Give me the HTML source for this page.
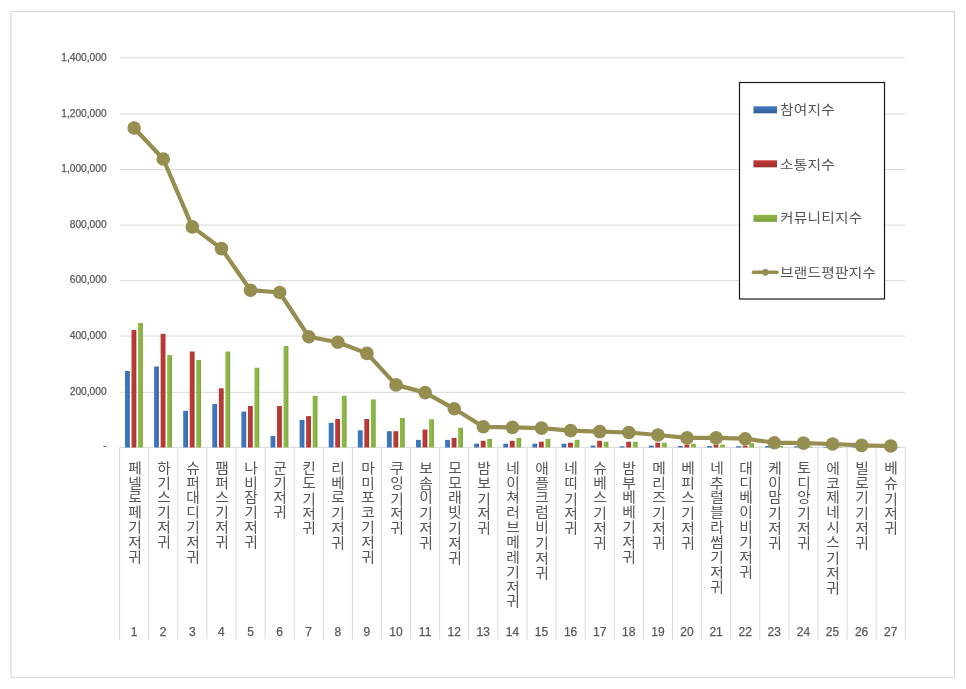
<!DOCTYPE html>
<html lang="ko"><head><meta charset="utf-8"><title>기저귀 브랜드평판</title>
<style>
html,body{margin:0;padding:0;background:#fff;}
body{width:966px;height:689px;position:relative;overflow:hidden;font-family:"Liberation Sans","Noto Sans CJK KR",sans-serif;color:#595959;}
#chart{position:absolute;left:0;top:0;width:966px;height:689px;}
svg{position:absolute;left:0;top:0;}
.ylab{-webkit-text-stroke:0.25px #595959;position:absolute;right:859.4px;width:80px;text-align:right;font-size:10.2px;line-height:12px;height:12px;color:#595959;white-space:nowrap;}
.cat{position:absolute;top:461px;width:29px;height:170px;margin-left:-0.9px;writing-mode:vertical-rl;text-orientation:upright;font-family:"Liberation Sans","Noto Sans CJK KR",sans-serif;font-size:13.4px;letter-spacing:1.45px;word-spacing:-15.3px;line-height:29px;transform:scaleX(1.1);transform-origin:50% 0;color:#555;white-space:nowrap;}
.num{-webkit-text-stroke:0.25px #595959;position:absolute;top:624.7px;width:29px;text-align:center;font-size:12px;line-height:14px;color:#595959;}
.leg{position:absolute;left:780px;font-size:13px;letter-spacing:0.2px;transform:scaleX(1.13);transform-origin:0 50%;line-height:18px;height:18px;color:#555;white-space:nowrap;font-family:"Liberation Sans","Noto Sans CJK KR",sans-serif;}
</style></head><body><div id="chart">
<svg width="966" height="689" viewBox="0 0 966 689">
<defs>
<linearGradient id="gb" x1="0" y1="0" x2="1" y2="0"><stop offset="0" stop-color="#3d7ac4"/><stop offset="0.65" stop-color="#3a75bb"/><stop offset="1" stop-color="#3d649a"/></linearGradient>
<linearGradient id="gr" x1="0" y1="0" x2="1" y2="0"><stop offset="0" stop-color="#b23632"/><stop offset="0.4" stop-color="#c23a36"/><stop offset="1" stop-color="#a03530"/></linearGradient>
<linearGradient id="gg" x1="0" y1="0" x2="1" y2="0"><stop offset="0" stop-color="#8cb644"/><stop offset="0.5" stop-color="#8db843"/><stop offset="1" stop-color="#80a246"/></linearGradient>
<linearGradient id="lb" x1="0" y1="0" x2="0" y2="1"><stop offset="0" stop-color="#3f7bc6"/><stop offset="1" stop-color="#355d94"/></linearGradient>
<linearGradient id="lr" x1="0" y1="0" x2="0" y2="1"><stop offset="0" stop-color="#c63b39"/><stop offset="1" stop-color="#9a2f2c"/></linearGradient>
<linearGradient id="lg" x1="0" y1="0" x2="0" y2="1"><stop offset="0" stop-color="#93ba47"/><stop offset="1" stop-color="#7b9c3c"/></linearGradient>
</defs>
<rect x="10.95" y="11.6" width="943.5" height="665.8" fill="#fff" stroke="#d9d9d9" stroke-width="1.1"/>
<line x1="119.6" y1="57.80" x2="905.3" y2="57.80" stroke="#d9d9d9" stroke-width="1"/>
<line x1="119.6" y1="113.90" x2="905.3" y2="113.90" stroke="#d9d9d9" stroke-width="1"/>
<line x1="119.6" y1="169.50" x2="905.3" y2="169.50" stroke="#d9d9d9" stroke-width="1"/>
<line x1="119.6" y1="225.10" x2="905.3" y2="225.10" stroke="#d9d9d9" stroke-width="1"/>
<line x1="119.6" y1="280.60" x2="905.3" y2="280.60" stroke="#d9d9d9" stroke-width="1"/>
<line x1="119.6" y1="336.10" x2="905.3" y2="336.10" stroke="#d9d9d9" stroke-width="1"/>
<line x1="119.6" y1="392.30" x2="905.3" y2="392.30" stroke="#d9d9d9" stroke-width="1"/>
<line x1="119.6" y1="447.40" x2="905.3" y2="447.40" stroke="#d9d9d9" stroke-width="1"/>
<line x1="119.60" y1="447.5" x2="119.60" y2="639.5" stroke="#d9d9d9" stroke-width="1"/>
<line x1="148.70" y1="447.5" x2="148.70" y2="639.5" stroke="#d9d9d9" stroke-width="1"/>
<line x1="177.80" y1="447.5" x2="177.80" y2="639.5" stroke="#d9d9d9" stroke-width="1"/>
<line x1="206.90" y1="447.5" x2="206.90" y2="639.5" stroke="#d9d9d9" stroke-width="1"/>
<line x1="236.00" y1="447.5" x2="236.00" y2="639.5" stroke="#d9d9d9" stroke-width="1"/>
<line x1="265.10" y1="447.5" x2="265.10" y2="639.5" stroke="#d9d9d9" stroke-width="1"/>
<line x1="294.20" y1="447.5" x2="294.20" y2="639.5" stroke="#d9d9d9" stroke-width="1"/>
<line x1="323.30" y1="447.5" x2="323.30" y2="639.5" stroke="#d9d9d9" stroke-width="1"/>
<line x1="352.40" y1="447.5" x2="352.40" y2="639.5" stroke="#d9d9d9" stroke-width="1"/>
<line x1="381.50" y1="447.5" x2="381.50" y2="639.5" stroke="#d9d9d9" stroke-width="1"/>
<line x1="410.60" y1="447.5" x2="410.60" y2="639.5" stroke="#d9d9d9" stroke-width="1"/>
<line x1="439.70" y1="447.5" x2="439.70" y2="639.5" stroke="#d9d9d9" stroke-width="1"/>
<line x1="468.80" y1="447.5" x2="468.80" y2="639.5" stroke="#d9d9d9" stroke-width="1"/>
<line x1="497.90" y1="447.5" x2="497.90" y2="639.5" stroke="#d9d9d9" stroke-width="1"/>
<line x1="527.00" y1="447.5" x2="527.00" y2="639.5" stroke="#d9d9d9" stroke-width="1"/>
<line x1="556.10" y1="447.5" x2="556.10" y2="639.5" stroke="#d9d9d9" stroke-width="1"/>
<line x1="585.20" y1="447.5" x2="585.20" y2="639.5" stroke="#d9d9d9" stroke-width="1"/>
<line x1="614.30" y1="447.5" x2="614.30" y2="639.5" stroke="#d9d9d9" stroke-width="1"/>
<line x1="643.40" y1="447.5" x2="643.40" y2="639.5" stroke="#d9d9d9" stroke-width="1"/>
<line x1="672.50" y1="447.5" x2="672.50" y2="639.5" stroke="#d9d9d9" stroke-width="1"/>
<line x1="701.60" y1="447.5" x2="701.60" y2="639.5" stroke="#d9d9d9" stroke-width="1"/>
<line x1="730.70" y1="447.5" x2="730.70" y2="639.5" stroke="#d9d9d9" stroke-width="1"/>
<line x1="759.80" y1="447.5" x2="759.80" y2="639.5" stroke="#d9d9d9" stroke-width="1"/>
<line x1="788.90" y1="447.5" x2="788.90" y2="639.5" stroke="#d9d9d9" stroke-width="1"/>
<line x1="818.00" y1="447.5" x2="818.00" y2="639.5" stroke="#d9d9d9" stroke-width="1"/>
<line x1="847.10" y1="447.5" x2="847.10" y2="639.5" stroke="#d9d9d9" stroke-width="1"/>
<line x1="876.20" y1="447.5" x2="876.20" y2="639.5" stroke="#d9d9d9" stroke-width="1"/>
<line x1="905.30" y1="447.5" x2="905.30" y2="639.5" stroke="#d9d9d9" stroke-width="1"/>
<rect x="125.00" y="371.00" width="4.8" height="76.50" fill="url(#gb)"/>
<rect x="131.55" y="329.90" width="4.8" height="117.60" fill="url(#gr)"/>
<rect x="138.10" y="323.00" width="4.8" height="124.50" fill="url(#gg)"/>
<rect x="154.10" y="366.50" width="4.8" height="81.00" fill="url(#gb)"/>
<rect x="160.65" y="333.80" width="4.8" height="113.70" fill="url(#gr)"/>
<rect x="167.20" y="355.10" width="4.8" height="92.40" fill="url(#gg)"/>
<rect x="183.20" y="410.80" width="4.8" height="36.70" fill="url(#gb)"/>
<rect x="189.75" y="351.50" width="4.8" height="96.00" fill="url(#gr)"/>
<rect x="196.30" y="360.00" width="4.8" height="87.50" fill="url(#gg)"/>
<rect x="212.30" y="404.10" width="4.8" height="43.40" fill="url(#gb)"/>
<rect x="218.85" y="388.30" width="4.8" height="59.20" fill="url(#gr)"/>
<rect x="225.40" y="351.50" width="4.8" height="96.00" fill="url(#gg)"/>
<rect x="241.40" y="411.60" width="4.8" height="35.90" fill="url(#gb)"/>
<rect x="247.95" y="406.00" width="4.8" height="41.50" fill="url(#gr)"/>
<rect x="254.50" y="367.70" width="4.8" height="79.80" fill="url(#gg)"/>
<rect x="270.50" y="436.00" width="4.8" height="11.50" fill="url(#gb)"/>
<rect x="277.05" y="406.00" width="4.8" height="41.50" fill="url(#gr)"/>
<rect x="283.60" y="346.00" width="4.8" height="101.50" fill="url(#gg)"/>
<rect x="299.60" y="419.90" width="4.8" height="27.60" fill="url(#gb)"/>
<rect x="306.15" y="416.10" width="4.8" height="31.40" fill="url(#gr)"/>
<rect x="312.70" y="395.80" width="4.8" height="51.70" fill="url(#gg)"/>
<rect x="328.70" y="422.80" width="4.8" height="24.70" fill="url(#gb)"/>
<rect x="335.25" y="419.00" width="4.8" height="28.50" fill="url(#gr)"/>
<rect x="341.80" y="395.80" width="4.8" height="51.70" fill="url(#gg)"/>
<rect x="357.80" y="430.30" width="4.8" height="17.20" fill="url(#gb)"/>
<rect x="364.35" y="419.00" width="4.8" height="28.50" fill="url(#gr)"/>
<rect x="370.90" y="399.40" width="4.8" height="48.10" fill="url(#gg)"/>
<rect x="386.90" y="431.20" width="4.8" height="16.30" fill="url(#gb)"/>
<rect x="393.45" y="431.20" width="4.8" height="16.30" fill="url(#gr)"/>
<rect x="400.00" y="418.00" width="4.8" height="29.50" fill="url(#gg)"/>
<rect x="416.00" y="439.90" width="4.8" height="7.60" fill="url(#gb)"/>
<rect x="422.55" y="429.50" width="4.8" height="18.00" fill="url(#gr)"/>
<rect x="429.10" y="419.20" width="4.8" height="28.30" fill="url(#gg)"/>
<rect x="445.10" y="439.90" width="4.8" height="7.60" fill="url(#gb)"/>
<rect x="451.65" y="437.90" width="4.8" height="9.60" fill="url(#gr)"/>
<rect x="458.20" y="427.80" width="4.8" height="19.70" fill="url(#gg)"/>
<rect x="474.20" y="443.70" width="4.8" height="3.80" fill="url(#gb)"/>
<rect x="480.75" y="440.80" width="4.8" height="6.70" fill="url(#gr)"/>
<rect x="487.30" y="438.90" width="4.8" height="8.60" fill="url(#gg)"/>
<rect x="503.30" y="443.70" width="4.8" height="3.80" fill="url(#gb)"/>
<rect x="509.85" y="440.80" width="4.8" height="6.70" fill="url(#gr)"/>
<rect x="516.40" y="437.90" width="4.8" height="9.60" fill="url(#gg)"/>
<rect x="532.40" y="443.70" width="4.8" height="3.80" fill="url(#gb)"/>
<rect x="538.95" y="441.70" width="4.8" height="5.80" fill="url(#gr)"/>
<rect x="545.50" y="438.90" width="4.8" height="8.60" fill="url(#gg)"/>
<rect x="561.50" y="443.70" width="4.8" height="3.80" fill="url(#gb)"/>
<rect x="568.05" y="442.70" width="4.8" height="4.80" fill="url(#gr)"/>
<rect x="574.60" y="439.80" width="4.8" height="7.70" fill="url(#gg)"/>
<rect x="590.60" y="445.60" width="4.8" height="1.90" fill="url(#gb)"/>
<rect x="597.15" y="440.80" width="4.8" height="6.70" fill="url(#gr)"/>
<rect x="603.70" y="441.70" width="4.8" height="5.80" fill="url(#gg)"/>
<rect x="619.70" y="446.30" width="4.8" height="1.20" fill="url(#gb)"/>
<rect x="626.25" y="441.70" width="4.8" height="5.80" fill="url(#gr)"/>
<rect x="632.80" y="441.70" width="4.8" height="5.80" fill="url(#gg)"/>
<rect x="648.80" y="445.60" width="4.8" height="1.90" fill="url(#gb)"/>
<rect x="655.35" y="442.70" width="4.8" height="4.80" fill="url(#gr)"/>
<rect x="661.90" y="442.70" width="4.8" height="4.80" fill="url(#gg)"/>
<rect x="677.90" y="446.00" width="4.8" height="1.50" fill="url(#gb)"/>
<rect x="684.45" y="444.60" width="4.8" height="2.90" fill="url(#gr)"/>
<rect x="691.00" y="443.70" width="4.8" height="3.80" fill="url(#gg)"/>
<rect x="707.00" y="446.00" width="4.8" height="1.50" fill="url(#gb)"/>
<rect x="713.55" y="444.60" width="4.8" height="2.90" fill="url(#gr)"/>
<rect x="720.10" y="444.60" width="4.8" height="2.90" fill="url(#gg)"/>
<rect x="736.10" y="446.20" width="4.8" height="1.30" fill="url(#gb)"/>
<rect x="742.65" y="445.60" width="4.8" height="1.90" fill="url(#gr)"/>
<rect x="749.20" y="443.10" width="4.8" height="4.40" fill="url(#gg)"/>
<rect x="765.20" y="446.00" width="4.8" height="1.50" fill="url(#gb)"/>
<rect x="771.75" y="446.50" width="4.8" height="1.00" fill="url(#gr)"/>
<rect x="778.30" y="446.00" width="4.8" height="1.50" fill="url(#gg)"/>
<rect x="794.30" y="446.30" width="4.8" height="1.20" fill="url(#gb)"/>
<rect x="800.85" y="446.80" width="4.8" height="0.70" fill="url(#gr)"/>
<rect x="807.40" y="446.50" width="4.8" height="1.00" fill="url(#gg)"/>
<rect x="823.40" y="446.80" width="4.8" height="0.70" fill="url(#gb)"/>
<rect x="829.95" y="446.90" width="4.8" height="0.60" fill="url(#gr)"/>
<rect x="836.50" y="446.80" width="4.8" height="0.70" fill="url(#gg)"/>
<rect x="852.50" y="447.00" width="4.8" height="0.50" fill="url(#gb)"/>
<rect x="859.05" y="447.00" width="4.8" height="0.50" fill="url(#gr)"/>
<rect x="865.60" y="447.00" width="4.8" height="0.50" fill="url(#gg)"/>
<rect x="881.60" y="447.10" width="4.8" height="0.40" fill="url(#gb)"/>
<rect x="888.15" y="447.10" width="4.8" height="0.40" fill="url(#gr)"/>
<rect x="894.70" y="447.10" width="4.8" height="0.40" fill="url(#gg)"/>
<polyline points="134.15,128.00 163.25,159.00 192.35,226.90 221.45,248.60 250.55,290.20 279.65,292.50 308.75,336.70 337.85,342.20 366.95,353.40 396.05,384.90 425.15,392.60 454.25,408.80 483.35,426.80 512.45,427.40 541.55,428.10 570.65,430.60 599.75,431.60 628.85,432.50 657.95,435.00 687.05,437.90 716.15,437.90 745.25,438.70 774.35,442.70 803.45,443.10 832.55,444.00 861.65,445.40 890.75,446.00" fill="none" stroke="#968e50" stroke-width="4.2" stroke-linejoin="round" stroke-linecap="round"/>
<circle cx="134.15" cy="128.00" r="6.8" fill="#968e50"/>
<circle cx="163.25" cy="159.00" r="6.8" fill="#968e50"/>
<circle cx="192.35" cy="226.90" r="6.8" fill="#968e50"/>
<circle cx="221.45" cy="248.60" r="6.8" fill="#968e50"/>
<circle cx="250.55" cy="290.20" r="6.8" fill="#968e50"/>
<circle cx="279.65" cy="292.50" r="6.8" fill="#968e50"/>
<circle cx="308.75" cy="336.70" r="6.8" fill="#968e50"/>
<circle cx="337.85" cy="342.20" r="6.8" fill="#968e50"/>
<circle cx="366.95" cy="353.40" r="6.8" fill="#968e50"/>
<circle cx="396.05" cy="384.90" r="6.8" fill="#968e50"/>
<circle cx="425.15" cy="392.60" r="6.8" fill="#968e50"/>
<circle cx="454.25" cy="408.80" r="6.8" fill="#968e50"/>
<circle cx="483.35" cy="426.80" r="6.8" fill="#968e50"/>
<circle cx="512.45" cy="427.40" r="6.8" fill="#968e50"/>
<circle cx="541.55" cy="428.10" r="6.8" fill="#968e50"/>
<circle cx="570.65" cy="430.60" r="6.8" fill="#968e50"/>
<circle cx="599.75" cy="431.60" r="6.8" fill="#968e50"/>
<circle cx="628.85" cy="432.50" r="6.8" fill="#968e50"/>
<circle cx="657.95" cy="435.00" r="6.8" fill="#968e50"/>
<circle cx="687.05" cy="437.90" r="6.8" fill="#968e50"/>
<circle cx="716.15" cy="437.90" r="6.8" fill="#968e50"/>
<circle cx="745.25" cy="438.70" r="6.8" fill="#968e50"/>
<circle cx="774.35" cy="442.70" r="6.8" fill="#968e50"/>
<circle cx="803.45" cy="443.10" r="6.8" fill="#968e50"/>
<circle cx="832.55" cy="444.00" r="6.8" fill="#968e50"/>
<circle cx="861.65" cy="445.40" r="6.8" fill="#968e50"/>
<circle cx="890.75" cy="446.00" r="6.8" fill="#968e50"/>
<rect x="739.5" y="82.5" width="145" height="216.5" fill="#fff" stroke="#1a1a1a" stroke-width="1.2"/>
<rect x="753.5" y="106.3" width="23.5" height="7" fill="url(#lb)"/>
<rect x="753.5" y="160.3" width="23.5" height="7" fill="url(#lr)"/>
<rect x="753.5" y="214.8" width="23.5" height="7" fill="url(#lg)"/>
<line x1="753.5" y1="272.3" x2="777" y2="272.3" stroke="#968e50" stroke-width="3.6" stroke-linecap="round"/>
<circle cx="765.3" cy="272.3" r="3.4" fill="#968e50"/>
</svg>
<div class="ylab" style="top:51.6px">1,400,000</div>
<div class="ylab" style="top:107.7px">1,200,000</div>
<div class="ylab" style="top:163.3px">1,000,000</div>
<div class="ylab" style="top:218.9px">800,000</div>
<div class="ylab" style="top:274.4px">600,000</div>
<div class="ylab" style="top:329.9px">400,000</div>
<div class="ylab" style="top:386.1px">200,000</div>
<div class="ylab" style="top:439.8px">-</div>
<div class="cat" style="left:119.60px">페넬로페기저귀</div>
<div class="num" style="left:119.60px">1</div>
<div class="cat" style="left:148.70px">하기스기저귀</div>
<div class="num" style="left:148.70px">2</div>
<div class="cat" style="left:177.80px">슈퍼대디기저귀</div>
<div class="num" style="left:177.80px">3</div>
<div class="cat" style="left:206.90px">팸퍼스기저귀</div>
<div class="num" style="left:206.90px">4</div>
<div class="cat" style="left:236.00px">나비잠기저귀</div>
<div class="num" style="left:236.00px">5</div>
<div class="cat" style="left:265.10px">군기저귀</div>
<div class="num" style="left:265.10px">6</div>
<div class="cat" style="left:294.20px">킨도 기저귀</div>
<div class="num" style="left:294.20px">7</div>
<div class="cat" style="left:323.30px">리베로 기저귀</div>
<div class="num" style="left:323.30px">8</div>
<div class="cat" style="left:352.40px">마미포코기저귀</div>
<div class="num" style="left:352.40px">9</div>
<div class="cat" style="left:381.50px">쿠잉 기저귀</div>
<div class="num" style="left:381.50px">10</div>
<div class="cat" style="left:410.60px">보솜이 기저귀</div>
<div class="num" style="left:410.60px">11</div>
<div class="cat" style="left:439.70px">모모래빗 기저귀</div>
<div class="num" style="left:439.70px">12</div>
<div class="cat" style="left:468.80px">밤보 기저귀</div>
<div class="num" style="left:468.80px">13</div>
<div class="cat" style="left:497.90px">네이쳐러브메레기저귀</div>
<div class="num" style="left:497.90px">14</div>
<div class="cat" style="left:527.00px">애플크럼비 기저귀</div>
<div class="num" style="left:527.00px">15</div>
<div class="cat" style="left:556.10px">네띠 기저귀</div>
<div class="num" style="left:556.10px">16</div>
<div class="cat" style="left:585.20px">슈베스 기저귀</div>
<div class="num" style="left:585.20px">17</div>
<div class="cat" style="left:614.30px">밤부베베기저귀</div>
<div class="num" style="left:614.30px">18</div>
<div class="cat" style="left:643.40px">메리즈 기저귀</div>
<div class="num" style="left:643.40px">19</div>
<div class="cat" style="left:672.50px">베피스 기저귀</div>
<div class="num" style="left:672.50px">20</div>
<div class="cat" style="left:701.60px">네추럴블라썸기저귀</div>
<div class="num" style="left:701.60px">21</div>
<div class="cat" style="left:730.70px">대디베이비기저귀</div>
<div class="num" style="left:730.70px">22</div>
<div class="cat" style="left:759.80px">케이맘 기저귀</div>
<div class="num" style="left:759.80px">23</div>
<div class="cat" style="left:788.90px">토디앙 기저귀</div>
<div class="num" style="left:788.90px">24</div>
<div class="cat" style="left:818.00px">에코제네시스 기저귀</div>
<div class="num" style="left:818.00px">25</div>
<div class="cat" style="left:847.10px">빌로기 기저귀</div>
<div class="num" style="left:847.10px">26</div>
<div class="cat" style="left:876.20px">베슈 기저귀</div>
<div class="num" style="left:876.20px">27</div>
<div class="leg" style="top:101.4px">참여지수</div>
<div class="leg" style="top:155.8px">소통지수</div>
<div class="leg" style="top:209.3px">커뮤니티지수</div>
<div class="leg" style="top:263.8px">브랜드평판지수</div>
</div></body></html>
